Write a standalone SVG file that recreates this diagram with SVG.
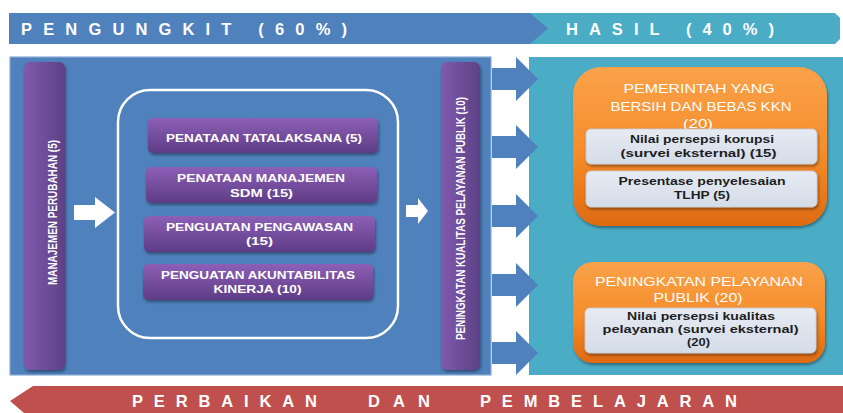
<svg xmlns="http://www.w3.org/2000/svg" width="843" height="413" viewBox="0 0 843 413">
<defs>
<linearGradient id="gPurpleV" x1="0" y1="0" x2="0" y2="1">
<stop offset="0" stop-color="#8C5FB6"/>
<stop offset="1" stop-color="#5E3C86"/>
</linearGradient>
<linearGradient id="gPurpleH" x1="0" y1="0" x2="1" y2="0">
<stop offset="0" stop-color="#8159AF"/>
<stop offset="1" stop-color="#5C4185"/>
</linearGradient>
<linearGradient id="gOrange" x1="0" y1="0" x2="0" y2="1">
<stop offset="0" stop-color="#FAA24A"/>
<stop offset="0.55" stop-color="#F58C2A"/>
<stop offset="1" stop-color="#DF6A10"/>
</linearGradient>
<linearGradient id="gLight" x1="0" y1="0" x2="0" y2="1">
<stop offset="0" stop-color="#E6EBF3"/>
<stop offset="1" stop-color="#D4DCE8"/>
</linearGradient>
<filter id="sh" x="-10%" y="-10%" width="120%" height="130%">
<feDropShadow dx="1" dy="2" stdDeviation="1.5" flood-color="#000" flood-opacity="0.4"/>
</filter>
</defs>
<style>
.hdr{font-family:"Liberation Sans",Arial,sans-serif;font-weight:700;fill:#fff;font-size:16.5px}
.box{fill:url(#gPurpleV);filter:url(#sh)}
.bar{fill:url(#gPurpleH);filter:url(#sh)}
.wt{font-family:"Liberation Sans",Arial,sans-serif;font-weight:700;fill:#fff;font-size:11.5px;text-anchor:middle}
.vt{font-family:"Liberation Sans",Arial,sans-serif;font-weight:700;fill:#fff;font-size:12.5px;text-anchor:middle}
.ot{font-family:"Liberation Sans",Arial,sans-serif;font-weight:400;fill:#fff;font-size:13.5px;text-anchor:middle}
.it{font-family:"Liberation Sans",Arial,sans-serif;font-weight:700;fill:#1E1E1E;font-size:10.8px;text-anchor:middle}
.orange{fill:url(#gOrange);filter:url(#sh)}
.inner{fill:url(#gLight);stroke:#C5CDD9;stroke-width:0.8;filter:url(#sh)}
.warrow{fill:#fff}
.barrow{fill:#4F81BD}
</style>

<!-- header -->
<g id="header">
<polygon points="520,13 835,13 840,18 840,39 835,44 520,44" fill="#4BACC6"/>
<polygon points="9,13 530,13 548,28.5 530,44 9,44" fill="#4F81BD"/>
<text class="hdr" x="21" y="35" textLength="326" lengthAdjust="spacing">PENGUNGKIT (60%)</text>
<text class="hdr" x="566" y="35" textLength="208" lengthAdjust="spacing">HASIL (40%)</text>
</g>

<!-- panels -->
<g id="panel-pengungkit">
<rect x="10" y="57" width="481" height="318" fill="#4F81BD" stroke="#8AAAD6" stroke-width="1.2"/>
</g>
<g id="panel-hasil">
<rect x="529" y="57" width="314" height="318" fill="#4BACC6"/>
</g>

<!-- left bar -->
<g id="manajemen-perubahan">
<rect class="bar" x="24" y="62" width="41" height="308" rx="6"/>
<text class="vt" transform="translate(57,212.5) rotate(-90)" textLength="145" lengthAdjust="spacingAndGlyphs">MANAJEMEN  PERUBAHAN (5)</text>
</g>

<!-- container -->
<g id="container">
<rect x="118" y="90" width="280" height="248" rx="32" fill="none" stroke="#fff" stroke-width="2.5"/>
</g>

<g id="box-tatalaksana">
<rect class="box" x="148" y="118" width="230" height="35" rx="5"/>
<text class="wt" x="264" y="141.5" textLength="196" lengthAdjust="spacingAndGlyphs">PENATAAN TATALAKSANA (5)</text>
</g>
<g id="box-sdm">
<rect class="box" x="146" y="167" width="231" height="36" rx="5"/>
<text class="wt" x="261" y="181.7" textLength="168" lengthAdjust="spacingAndGlyphs">PENATAAN MANAJEMEN</text>
<text class="wt" x="261.5" y="197.3" textLength="63" lengthAdjust="spacingAndGlyphs">SDM (15)</text>
</g>
<g id="box-pengawasan">
<rect class="box" x="144" y="216" width="231" height="36" rx="5"/>
<text class="wt" x="259.5" y="230.7" textLength="187" lengthAdjust="spacingAndGlyphs">PENGUATAN PENGAWASAN</text>
<text class="wt" x="259.5" y="245" textLength="27" lengthAdjust="spacingAndGlyphs">(15)</text>
</g>
<g id="box-akuntabilitas">
<rect class="box" x="143" y="264" width="230" height="36" rx="5"/>
<text class="wt" x="258" y="279.3" textLength="194" lengthAdjust="spacingAndGlyphs">PENGUATAN AKUNTABILITAS</text>
<text class="wt" x="257.5" y="292.7" textLength="88" lengthAdjust="spacingAndGlyphs">KINERJA (10)</text>
</g>

<!-- right bar -->
<g id="peningkatan-kualitas">
<rect class="bar" x="441" y="62" width="39" height="308" rx="6"/>
<text class="vt" transform="translate(465,218.5) rotate(-90)" textLength="243" lengthAdjust="spacingAndGlyphs">PENINGKATAN KUALITAS PELAYANAN PUBLIK (10)</text>
</g>

<!-- connectors -->
<g id="connectors">
<polygon class="warrow" points="74,205 95,205 95,197 115,212.5 95,228 95,220 74,220"/>
<polygon class="warrow" points="406,205 418,205 418,198 428,211 418,224 418,217 406,217"/>
<polygon class="barrow" points="492,68 516,68 516,57 538,79 516,101 516,90 492,90"/>
<polygon class="barrow" points="492,136 516,136 516,125 538,147 516,169 516,158 492,158"/>
<polygon class="barrow" points="492,205 516,205 516,194 538,216 516,238 516,227 492,227"/>
<polygon class="barrow" points="492,274 516,274 516,263 538,285 516,307 516,296 492,296"/>
<polygon class="barrow" points="492,342 516,342 516,331 538,353 516,375 516,364 492,364"/>
</g>

<!-- hasil boxes -->
<g id="pemerintah-bersih">
<rect class="orange" x="573" y="67" width="254" height="159" rx="28"/>
<text class="ot" x="699" y="93.3" textLength="151" lengthAdjust="spacingAndGlyphs">PEMERINTAH YANG</text>
<text class="ot" x="701" y="110.7" textLength="181" lengthAdjust="spacingAndGlyphs">BERSIH DAN BEBAS KKN</text>
<text class="ot" x="698" y="127.7" textLength="30" lengthAdjust="spacingAndGlyphs">(20)</text>
<rect class="inner" x="586" y="129" width="231" height="35" rx="5"/>
<text class="it" x="702" y="143.3" textLength="144" lengthAdjust="spacingAndGlyphs">Nilai persepsi korupsi</text>
<text class="it" x="698.5" y="156.7" textLength="156" lengthAdjust="spacingAndGlyphs">(survei eksternal) (15)</text>
<rect class="inner" x="586" y="171" width="231" height="36" rx="5"/>
<text class="it" x="702" y="185" textLength="167" lengthAdjust="spacingAndGlyphs">Presentase penyelesaian</text>
<text class="it" x="702" y="199" textLength="56" lengthAdjust="spacingAndGlyphs">TLHP (5)</text>
</g>

<g id="peningkatan-pelayanan">
<rect class="orange" x="573" y="262" width="252" height="101" rx="20"/>
<text class="ot" x="699" y="286" textLength="208" lengthAdjust="spacingAndGlyphs">PENINGKATAN PELAYANAN</text>
<text class="ot" x="698" y="301.7" textLength="89" lengthAdjust="spacingAndGlyphs">PUBLIK (20)</text>
<rect class="inner" x="585" y="308" width="231" height="45" rx="5"/>
<text class="it" x="701" y="320" textLength="148" lengthAdjust="spacingAndGlyphs">Nilai persepsi kualitas</text>
<text class="it" x="700.5" y="332.5" textLength="196" lengthAdjust="spacingAndGlyphs">pelayanan (survei eksternal)</text>
<text class="it" x="698.5" y="345.5" textLength="23" lengthAdjust="spacingAndGlyphs">(20)</text>
</g>

<!-- footer -->
<g id="footer">
<polygon points="33,386 843,386 843,413 24,413 10,401" fill="#C0504D"/>
<text class="hdr" x="132" y="407" font-size="15" textLength="185" lengthAdjust="spacing">PERBAIKAN</text>
<text class="hdr" x="368" y="407" font-size="15" textLength="62" lengthAdjust="spacing">DAN</text>
<text class="hdr" x="480" y="407" font-size="15" textLength="257" lengthAdjust="spacing">PEMBELAJARAN</text>
</g>
</svg>
